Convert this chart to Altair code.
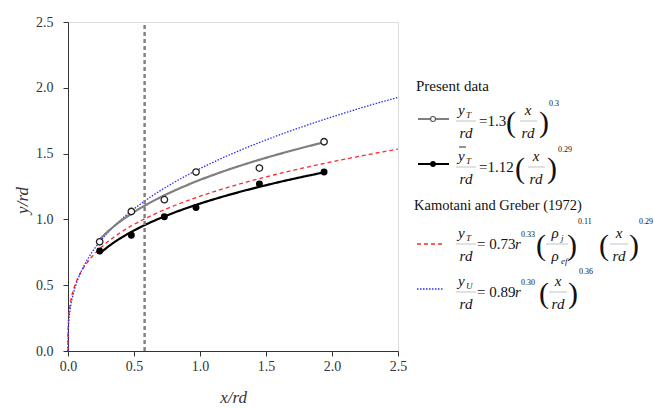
import altair as alt
import numpy as np
import pandas as pd

# Measured jet-trajectory points (x/rd, y/rd)
x_obs = [0.24, 0.48, 0.73, 0.97, 1.45, 1.94]
y_open = [0.83, 1.06, 1.15, 1.36, 1.39, 1.59]     # y_T / rd
y_filled = [0.76, 0.88, 1.02, 1.09, 1.27, 1.36]   # mean y_T / rd

# Power-law fits  y/rd = c (x/rd)^n
fit_c = [1.3, 1.12]
fit_n = [0.3, 0.29]
# Kamotani & Greber (1972) correlations, prefactors evaluated for this jet
kg_c = [1.176, 1.386]
kg_n = [0.29, 0.36]

x_marker = 0.58      # dashed reference line
axis_ticks = [i * 0.25 for i in range(11)]

W, H = 330, 329
OX, OY = 68, 22      # plot-area origin inside the page

SERIF = "'Liberation Serif', 'Times New Roman', Times, serif"
INK = "#333333"

# ---- curves -------------------------------------------------------------
grid_all = np.concatenate([[0.0], np.geomspace(1e-4, 0.1, 60), np.linspace(0.1, 2.5, 150)[1:]])
grid_fit = np.linspace(x_obs[0], x_obs[-1], 120)

kg_red = pd.DataFrame({"x": grid_all, "y": kg_c[0] * grid_all ** kg_n[0]})
kg_blue = pd.DataFrame({"x": grid_all, "y": kg_c[1] * grid_all ** kg_n[1]})
fit_gray = pd.DataFrame({"x": grid_fit, "y": fit_c[0] * grid_fit ** fit_n[0]})
fit_black = pd.DataFrame({"x": grid_fit, "y": fit_c[1] * grid_fit ** fit_n[1]})
pts_open = pd.DataFrame({"x": x_obs, "y": y_open})
pts_filled = pd.DataFrame({"x": x_obs, "y": y_filled})

label_expr = "datum.value % 0.5 == 0 ? format(datum.value, '.1f') : ''"
axis_common = dict(
    values=axis_ticks, labelExpr=label_expr, grid=False, tickSize=5,
    tickColor=INK, domainColor=INK, labelFont=SERIF, labelFontSize=14,
    labelColor=INK, titleFont=SERIF, titleFontStyle="italic",
    titleFontWeight="normal", titleFontSize=17, titleColor=INK,
    labelOverlap=False, labelFlush=False,
)
xs = alt.Scale(domain=[0, 2.5], nice=False)
ys = alt.Scale(domain=[0, 2.5], nice=False)
X = alt.X("x:Q", scale=xs, axis=alt.Axis(title="x/rd", labelPadding=3, titlePadding=16, **axis_common))
Y = alt.Y("y:Q", scale=ys, axis=alt.Axis(title="y/rd", labelPadding=10, titleX=-46, titleY=178,
                                         titleBaseline="middle", titleAlign="center", **axis_common))

red = alt.Chart(kg_red).mark_line(color="#ff2a2a", strokeDash=[4, 3], strokeWidth=1.3).encode(x=X, y=Y)
blue = alt.Chart(kg_blue).mark_line(color="#2a2aff", strokeDash=[1.5, 1.5], strokeWidth=1.3).encode(x=X, y=Y)
gray = alt.Chart(fit_gray).mark_line(color="#7f7f7f", strokeWidth=2.2).encode(x=X, y=Y)
black = alt.Chart(fit_black).mark_line(color="#000000", strokeWidth=2.2).encode(x=X, y=Y)
vline = alt.Chart(pts_open).mark_rule(color="#808080", strokeDash=[4, 3], strokeWidth=1.4).encode(
    x=alt.datum(x_marker), y=alt.datum(0), y2=alt.datum(2.5))
opens = alt.Chart(pts_open).mark_point(shape="circle", filled=False, fill="white", fillOpacity=1,
                                       color="#222222", size=42, strokeWidth=1.3, opacity=1).encode(x=X, y=Y)
fills = alt.Chart(pts_filled).mark_circle(color="#000000", size=48, opacity=1).encode(x=X, y=Y)

# ---- legend (page-pixel layout) -----------------------------------------
def px(items):
    return pd.DataFrame([{"t": t, "px": x - OX, "py": y - OY} for t, x, y in items])

def text_layer(items, **mk):
    return alt.Chart(px(items)).mark_text(font=SERIF, color="#111111", **mk).encode(
        x=alt.X("px:Q", scale=None), y=alt.Y("py:Q", scale=None), text="t:N")

def rule_layer(segs, **mk):
    df = pd.DataFrame([{"a": a - OX, "b": b - OX, "py": y - OY} for a, b, y in segs])
    return alt.Chart(df).mark_rule(**mk).encode(
        x=alt.X("a:Q", scale=None), x2="b:Q", y=alt.Y("py:Q", scale=None))

r1, r2, r3, r4 = 121, 167, 244, 292   # formula axis of each entry

headers = [("Present data", 416, 91), ("Kamotani and Greber (1972)", 414, 210)]
header_sizes = [15, 14.5]
ital_left = [("y", 458, r1 - 6), ("y", 458, r2 - 6), ("y", 458, r3 - 6), ("y", 458, r4 - 6),
             ("r", 515, r3 + 5), ("r", 515, r4 + 5)]
ital_center = [("rd", 466, r1 + 17), ("x", 528, r1 - 6), ("rd", 528, r1 + 17),
               ("rd", 466, r2 + 17), ("x", 536, r2 - 6), ("rd", 536, r2 + 17),
               ("rd", 466, r3 + 17), ("ρ", 555, r3 - 6), ("ρ", 555, r3 + 17),
               ("x", 619, r3 - 6), ("rd", 619, r3 + 17),
               ("rd", 466, r4 + 17), ("x", 558, r4 - 6), ("rd", 558, r4 + 17)]
subs = [("T", 466, r1 - 3), ("T", 466, r2 - 3), ("T", 466, r3 - 3), ("U", 466, r4 - 3),
        ("j", 561, r3 - 3), ("ef", 561, r3 + 20)]
plain = [("=1.3", 479, r1 + 5), ("=1.12", 479, r2 + 5), ("= 0.73", 477, r3 + 5), ("= 0.89", 477, r4 + 5)]
sups = [("0.3", 549, r1 - 15), ("0.29", 558, r2 - 15), ("0.33", 521, r3 - 7), ("0.11", 578, r3 - 20),
        ("0.29", 639, r3 - 20), ("0.30", 521, r4 - 7), ("0.36", 579, r4 - 18)]
parens = [("(", 511, r1 + 2), (")", 544, r1 + 2), ("(", 520, r2 + 2), (")", 552, r2 + 2),
          ("(", 541, r3 + 2), (")", 572, r3 + 2), ("(", 604, r3 + 2), (")", 634, r3 + 2),
          ("(", 544, r4 + 2), (")", 573, r4 + 2)]

frac_bars = [(456, 476, r1), (520, 537, r1), (456, 476, r2), (528, 545, r2),
             (456, 476, r3), (546, 568, r3), (610, 628, r3),
             (456, 476, r4), (549, 567, r4)]
overbar = [(459, 466, r2 - 20)]

leg_gray = rule_layer([(418, 449, 119)], color="#7f7f7f", strokeWidth=2)
leg_black = rule_layer([(418, 449, 164)], color="#000000", strokeWidth=2)
leg_red = rule_layer([(417, 443, r3)], color="#ff2a2a", strokeDash=[4, 3], strokeWidth=1.3)
leg_blue = rule_layer([(417, 443, r4 - 3)], color="#2a2aff", strokeDash=[1.5, 1.5], strokeWidth=1.3)

mk_df = pd.DataFrame({"px": [433 - OX], "py": [119 - OY]})
leg_open = alt.Chart(mk_df).mark_point(shape="circle", filled=False, fill="white", fillOpacity=1,
                                       color="#555555", size=24, strokeWidth=1.1).encode(
    x=alt.X("px:Q", scale=None), y=alt.Y("py:Q", scale=None))
mk_df2 = pd.DataFrame({"px": [433 - OX], "py": [164 - OY]})
leg_fill = alt.Chart(mk_df2).mark_circle(color="#000000", size=34, opacity=1).encode(
    x=alt.X("px:Q", scale=None), y=alt.Y("py:Q", scale=None))

legend = [
    text_layer(headers[:1], align="left", baseline="alphabetic", fontSize=header_sizes[0]),
    text_layer(headers[1:], align="left", baseline="alphabetic", fontSize=header_sizes[1]),
    text_layer(ital_left, align="left", baseline="alphabetic", fontSize=15, fontStyle="italic"),
    text_layer(ital_center, align="center", baseline="alphabetic", fontSize=15, fontStyle="italic"),
    text_layer(subs, align="left", baseline="alphabetic", fontSize=9, fontStyle="italic"),
    text_layer(plain, align="left", baseline="alphabetic", fontSize=15),
    text_layer(sups, align="left", baseline="alphabetic", fontSize=8),
    text_layer(parens, align="center", baseline="middle", fontSize=30),
    rule_layer(frac_bars, color="#9a9a9a", strokeWidth=0.6),
    rule_layer(overbar, color="#111111", strokeWidth=0.9),
    leg_gray, leg_black, leg_red, leg_blue, leg_open, leg_fill,
]

chart = alt.layer(red, blue, gray, black, vline, opens, fills, *legend).properties(
    width=W, height=H,
    autosize=alt.AutoSizeParams(type="none"),
    padding={"left": OX, "top": OY, "right": 654 - OX - W, "bottom": 409 - OY - H},
).configure_view(stroke=None).configure(background="white")

chart.save("out.html", embed_options={"renderer": "svg", "actions": False})
